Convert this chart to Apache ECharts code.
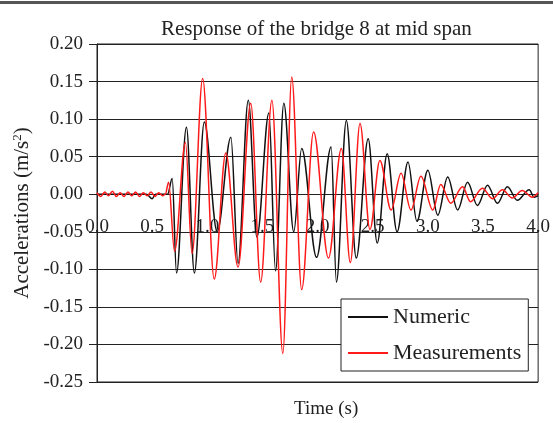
<!DOCTYPE html>
<html>
<head>
<meta charset="utf-8">
<script src="https://cdn.jsdelivr.net/npm/echarts@6/dist/echarts.min.js"></script>
<style>
  html, body { margin: 0; padding: 0; background: #fff; }
  #chart { width: 553px; height: 423px; }
</style>
</head>
<body>
<div id="chart"></div>
<script>
// response of the bridge at mid span - numeric vs measured

var yTicks = [-0.25, -0.20, -0.15, -0.10, -0.05, 0.00, 0.05, 0.10, 0.15, 0.20];
var xTicks = [0.0, 0.5, 1.0, 1.5, 2.0, 2.5, 3.0, 3.5, 4.0];

// Numeric (black) - peaks / troughs
var numT = [0.00, 0.45, 0.50, 0.53, 0.64, 0.682, 0.721, 0.811, 0.883, 0.973, 1.090, 1.214, 1.279,
            1.372, 1.450, 1.559, 1.619, 1.694, 1.784, 1.856, 1.991, 2.123, 2.171, 2.261, 2.351,
            2.459, 2.541, 2.631, 2.721, 2.820, 2.901, 3.000, 3.090, 3.180, 3.270, 3.360, 3.450,
            3.541, 3.631, 3.721, 3.811, 3.919, 3.964, 4.000];
var numV = [0.000, 0.000, -0.006, 0.000, 0.000, 0.021, -0.105, 0.089, -0.105, 0.096, -0.050, 0.076, -0.092,
            0.125, -0.057, 0.108, -0.102, 0.121, -0.050, 0.061, -0.084, 0.063, -0.117, 0.098, -0.085,
            0.074, -0.065, 0.054, -0.050, 0.043, -0.036, 0.032, -0.028, 0.023, -0.021, 0.016, -0.015,
            0.012, -0.012, 0.010, -0.008, 0.006, -0.004, -0.002];

// Measurements (red)
var measT = [0.00, 0.035, 0.07, 0.105, 0.14, 0.175, 0.21, 0.245, 0.28, 0.315, 0.35, 0.385, 0.42,
             0.455, 0.49, 0.525, 0.56, 0.595, 0.62, 0.649, 0.703, 0.802, 0.862, 0.958, 1.063, 1.168,
             1.279, 1.394, 1.484, 1.586, 1.685, 1.766, 1.856, 1.964, 2.099, 2.216, 2.297, 2.385,
             2.475, 2.565, 2.667, 2.757, 2.847, 2.937, 3.045, 3.117, 3.207, 3.315, 3.387, 3.495,
             3.586, 3.676, 3.766, 3.856, 3.946, 4.000];
var measV = [0.002, -0.003, 0.003, -0.002, 0.004, -0.003, 0.002, -0.003, 0.003, -0.002, 0.003, -0.003, 0.002,
             -0.002, 0.003, -0.003, 0.002, -0.002, 0.000, 0.016, -0.076, 0.069, -0.079, 0.154, -0.113, 0.055,
             -0.097, 0.121, -0.117, 0.125, -0.212, 0.156, -0.127, 0.083, -0.085, 0.061, -0.091, 0.094,
             -0.047, 0.045, -0.021, 0.028, -0.021, 0.024, -0.021, 0.013, -0.012, 0.010, -0.010, 0.008,
             -0.006, 0.006, -0.005, 0.005, -0.004, 0.002];

function pairs(t, v) {
    return t.map(function (x, i) { return [x, v[i]]; });
}

var chart = echarts.init(document.getElementById('chart'), null, {renderer: 'canvas'});
var serif = '"Liberation Serif", "DejaVu Serif", serif';

var gridTop = 44, gridBottom = 41, chartH = 423;
// pull the x axis up to the zero line (its labels sit just under y = 0)
var plotH = chartH - gridTop - gridBottom;
var zeroOffset = -plotH * (0 - yTicks[0]) / (yTicks[yTicks.length - 1] - yTicks[0]);

var option = {
    backgroundColor: '#fff',
    animation: false,
    title: [{
        text: 'Response of the bridge 8 at mid span',
        left: 156, top: 14,
        textStyle: {fontFamily: serif, fontSize: 21, fontWeight: 'normal', color: '#222'}
    }, {
        text: 'Time (s)',
        left: 289, top: 395,
        textStyle: {fontFamily: serif, fontSize: 19, fontWeight: 'normal', color: '#222'}
    }],
    graphic: [{
        type: 'rect',
        shape: {x: 0, y: 1, width: 553, height: 3},
        style: {fill: '#555'}
    }],
    legend: {
        orient: 'vertical',
        left: 341, top: 299,
        padding: [7, 7, 7, 7],
        icon: 'rect',
        itemWidth: 40, itemHeight: 2, itemGap: 14,
        backgroundColor: '#fff',
        borderColor: '#222', borderWidth: 1,
        textStyle: {fontFamily: serif, fontSize: 22, color: '#222', padding: [0, 0, 0, 0]},
        data: ['Numeric', 'Measurements']
    },
    grid: {
        left: 97, right: 12, top: gridTop, bottom: gridBottom,
        show: true, borderColor: '#222', borderWidth: 1
    },
    xAxis: {
        type: 'value',
        min: xTicks[0], max: xTicks[xTicks.length - 1], interval: 0.5,
        offset: zeroOffset,
        axisLine: {onZero: false, lineStyle: {color: '#222', width: 1}},
        axisTick: {show: false},
        splitLine: {show: false},
        axisLabel: {
            margin: 23,
            fontFamily: serif, fontSize: 19, color: '#222',
            formatter: function (v) { return v.toFixed(1); }
        }
    },
    yAxis: {
        type: 'value',
        min: yTicks[0], max: yTicks[yTicks.length - 1], interval: 0.05,
        name: 'Accelerations (m/s{sup|2})',
        nameLocation: 'middle',
        nameGap: 64,
        nameTextStyle: {
            fontFamily: serif, fontSize: 21, color: '#222',
            rich: {sup: {fontFamily: serif, fontSize: 13, color: '#222', verticalAlign: 'bottom', padding: [0, 0, 9, 0]}}
        },
        axisLine: {show: true, onZero: false, lineStyle: {color: '#222', width: 1}},
        axisTick: {show: true, inside: false, length: 8, lineStyle: {color: '#222'}},
        splitLine: {show: true, lineStyle: {color: '#222', width: 1}},
        axisLabel: {
            margin: 14,
            fontFamily: serif, fontSize: 19, color: '#222',
            formatter: function (v) { return v.toFixed(2); }
        }
    },
    series: [{
        name: 'Numeric',
        type: 'line',
        symbol: 'none',
        smooth: 0.35,
        smoothMonotone: 'x',
        color: '#111',
        lineStyle: {color: '#111', width: 1.5},
        data: pairs(numT, numV)
    }, {
        name: 'Measurements',
        type: 'line',
        symbol: 'none',
        smooth: 0.35,
        smoothMonotone: 'x',
        color: '#ff1a1a',
        lineStyle: {color: '#ff1a1a', width: 1.5},
        data: pairs(measT, measV)
    }]
};

chart.setOption(option);
</script>
</body>
</html>
